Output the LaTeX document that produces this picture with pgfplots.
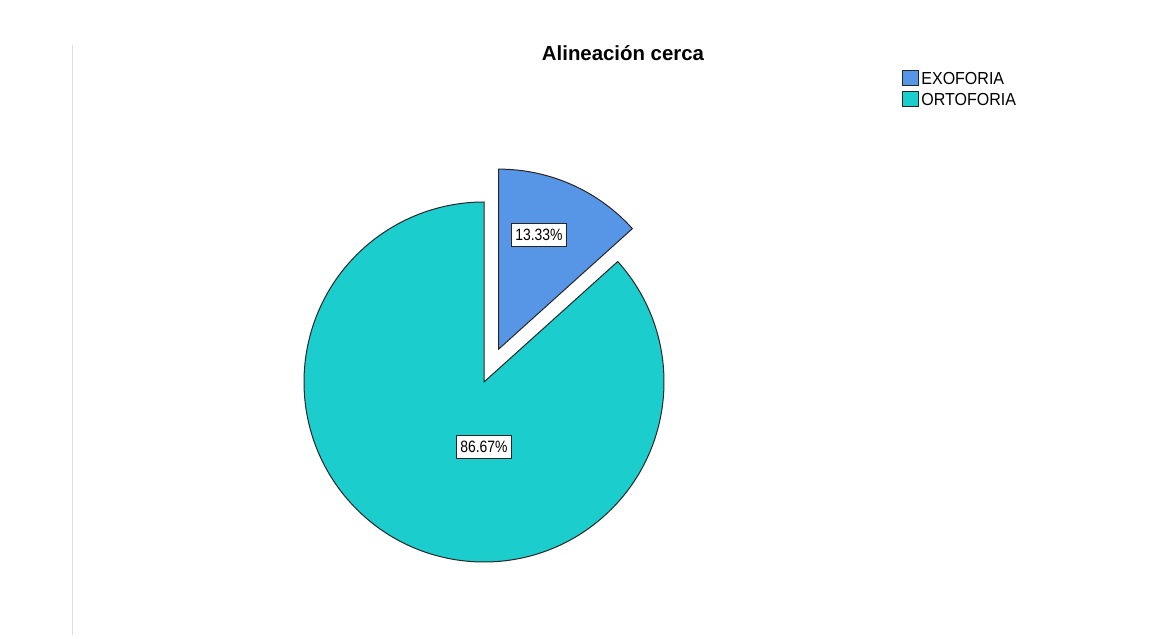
\documentclass[border=0pt]{standalone}
\usepackage{fontspec}
\setmainfont{Liberation Sans}
\newfontfamily\labfont[FakeStretch=0.85]{Liberation Sans}
\newfontfamily\legfont[FakeStretch=0.92]{Liberation Sans}
\usepackage{pgfplots}
\usepackage{pgfplotstable}
\pgfplotsset{compat=1.18}
\definecolor{exo}{RGB}{87,150,230}
\definecolor{orto}{RGB}{28,205,205}
\definecolor{vline}{RGB}{220,220,232}
\pgfplotstableread{
label value
EXOFORIA 13.33
ORTOFORIA 86.67
}\piedata
\begin{document}
\begin{tikzpicture}
\pgfplotstablegetelem{0}{value}\of\piedata
\pgfmathsetmacro{\exoang}{\pgfplotsretval*3.6}
\pgfmathsetmacro{\exoend}{90-\exoang}
\pgfmathsetmacro{\exomid}{90-\exoang/2}
\pgfmathsetmacro{\ex}{484+36*cos(\exomid)}
\pgfmathsetmacro{\ey}{256+36*sin(\exomid)}
\pgfplotstablegetelem{1}{value}\of\piedata
\pgfmathsetmacro{\ortoend}{\exoend-\pgfplotsretval*3.6}
\useasboundingbox (0,0) rectangle (579pt,319pt);
\begin{axis}[at={(0,0)}, anchor=south west, x=0.5pt, y=0.5pt,
  xmin=0, xmax=1158, ymin=0, ymax=638, hide axis, clip=false]
\addplot[draw=none, forget plot] coordinates {(0,0) (1158,638)};
% vertical line
\draw[vline, line width=0.6pt] (axis cs:72.5,593) -- (axis cs:72.5,3);
% slices
\filldraw[fill=orto, draw=black!85, line width=0.5pt]
  (axis cs:484,256) -- ++(\exoend:90pt) arc[start angle=\exoend, end angle=\ortoend, radius=90pt] -- cycle;
\filldraw[fill=exo, draw=black!85, line width=0.5pt]
  (axis cs:\ex,\ey) -- ++(90:90pt) arc[start angle=90, end angle=\exoend, radius=90pt] -- cycle;
% value labels
\node[draw=black!85, fill=white, line width=0.5pt, inner xsep=1.8pt, inner ysep=3pt, font=\labfont\fontsize{8.2}{9}\selectfont]
  at (axis cs:539,403) {13.33\%};
\node[draw=black!85, fill=white, line width=0.5pt, inner xsep=1.8pt, inner ysep=3pt, font=\labfont\fontsize{8.2}{9}\selectfont]
  at (axis cs:484,191) {86.67\%};
% title
\node[font=\bfseries\fontsize{10.2}{12}\selectfont] at (axis cs:623,585) {Alineación cerca};
% legend
\filldraw[fill=exo, draw=black!85, line width=0.5pt] (axis cs:902,567) rectangle (axis cs:918,552);
\filldraw[fill=orto, draw=black!85, line width=0.5pt] (axis cs:902,546) rectangle (axis cs:918,531);
\node[anchor=base west, inner sep=0pt, font=\legfont\fontsize{8.7}{10}\selectfont] at (axis cs:921,553) {EXOFORIA};
\node[anchor=base west, inner sep=0pt, font=\legfont\fontsize{8.7}{10}\selectfont] at (axis cs:921,532) {ORTOFORIA};
\end{axis}
\end{tikzpicture}
\end{document}
